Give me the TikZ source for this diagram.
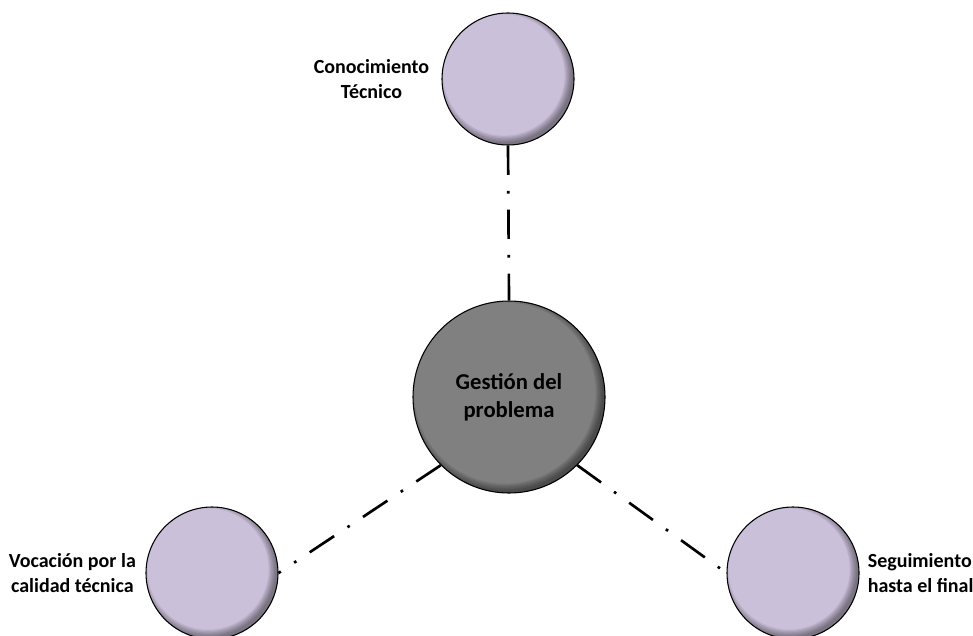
\documentclass[tikz,border=0pt]{standalone}
\usepackage{fontspec}
\setmainfont{Carlito}
\usetikzlibrary{positioning}
\definecolor{lilac}{RGB}{203,192,218}
\definecolor{hubgray}{RGB}{128,128,128}
\tikzset{
  inner shade/.style={path picture={
    \foreach \w in {1,...,6}
      \draw[black, opacity=.08, line width=10pt]
        ([shift={(-3pt,3pt)}]path picture bounding box.center) circle (#1+\w pt+2pt);}},
  leaf/.style={circle, draw, line width=.8pt, fill=lilac, minimum size=99pt, inner shade=47.5pt},
  hub/.style={circle, draw, line width=.8pt, fill=hubgray, minimum size=144pt, align=center,
    font=\bfseries\fontsize{17}{21}\selectfont, inner shade=70pt},
  tag/.style={align=center, inner sep=0pt, font=\bfseries\fontsize{15}{19}\selectfont},
  link/.style={line width=2pt, dash pattern=on 22pt off 12pt on 2pt off 12pt}
}
\begin{document}
\begin{tikzpicture}[x=.75pt, y=-.75pt]
    \useasboundingbox (0,0) rectangle (973,635);
    \node[hub] (gestion) at (509,397) {Gesti\'on del\\problema};
    \node[leaf] (tecnico) at (508,79) {};
    \node[leaf] (vocacion) at (212,573) {};
    \node[leaf] (seguimiento) at (793,573) {};
    \node[tag, left=9pt of tecnico] (tecnicotxt) {Conocimiento\\T\'ecnico};
    \node[tag, left=7pt of vocacion] (vocaciontxt) {Vocaci\'on por la\\calidad t\'ecnica};
    \node[tag, align=left, right=6pt of seguimiento] (seguimientotxt) {Seguimiento\\hasta el final};
    \draw[link] (tecnico.south) -- (gestion.north);
    \draw[link] (gestion.225) -- (vocacion.east);
    \draw[link] (gestion.-45) -- (seguimiento.west);
\end{tikzpicture}
\end{document}
